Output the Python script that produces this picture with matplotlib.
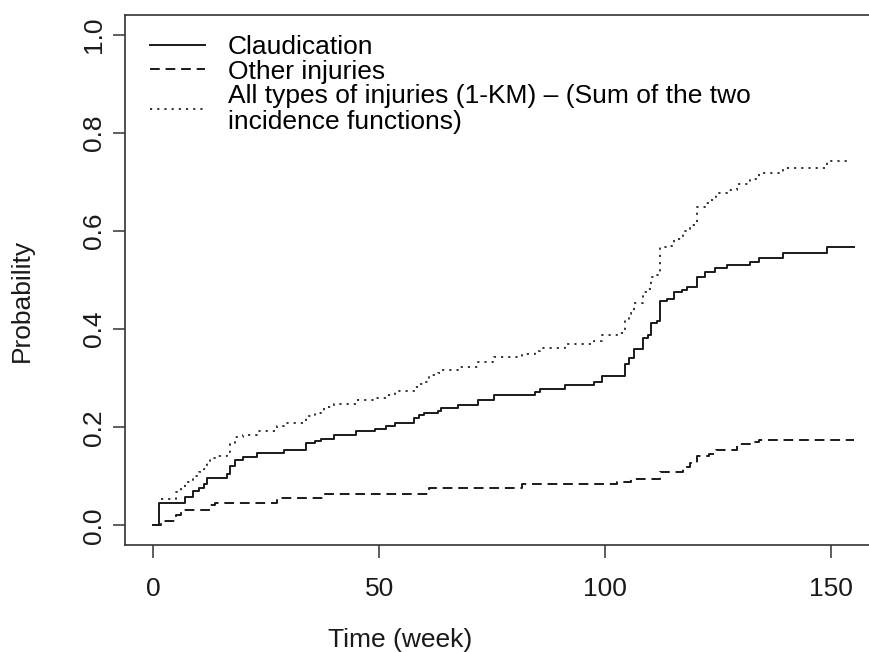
import numpy as np
import matplotlib as mpl
mpl.rcParams.update({'font.family': ['Liberation Sans', 'DejaVu Sans'], 'font.size': 19})
from matplotlib import pyplot as plt

# cumulative incidence, claudication (step times in weeks)
claud_t = [0, 1.25, 7.0, 8.8, 10.1, 11.2, 11.9, 16.4, 17.0, 18.2, 20.0, 23.1, 28.9, 33.8,
           35.9, 37.2, 40.0, 44.9, 49.0, 51.6, 53.6, 57.8, 58.8, 59.9, 63.0, 63.7, 67.4,
           71.8, 75.5, 84.4, 85.5, 91.1, 97.5, 99.3, 104.3, 105.2, 106.3, 108.4, 109.4,
           110.2, 111.5, 112.2, 113.6, 115.2, 117.0, 118.1, 120.2, 122.0, 124.2, 127.0,
           132.1, 134.0, 139.2, 149.1, 155.0]
claud_p = [0, 0.046, 0.057, 0.070, 0.077, 0.084, 0.096, 0.104, 0.120, 0.134, 0.139, 0.147,
           0.153, 0.167, 0.172, 0.177, 0.184, 0.192, 0.196, 0.202, 0.209, 0.218, 0.224,
           0.229, 0.234, 0.240, 0.246, 0.255, 0.266, 0.272, 0.277, 0.286, 0.292, 0.304,
           0.329, 0.341, 0.360, 0.382, 0.387, 0.412, 0.417, 0.458, 0.461, 0.475, 0.480,
           0.485, 0.507, 0.516, 0.524, 0.531, 0.536, 0.544, 0.555, 0.568, 0.568]

# cumulative incidence, other injuries
other_t = [0, 1.8, 5.1, 6.2, 12.7, 13.6, 27.4, 37.7, 61.0, 81.6, 102.5, 105.6, 112.2, 117.3,
           118.7, 120.2, 122.9, 124.4, 129.1, 132.1, 134.0, 155.0]
other_p = [0, 0.008, 0.022, 0.031, 0.041, 0.046, 0.056, 0.064, 0.077, 0.084, 0.089, 0.094,
           0.109, 0.119, 0.127, 0.141, 0.146, 0.153, 0.165, 0.170, 0.174, 0.174]

# 1-KM, all injuries
all_t = [1.8, 5.1, 6.2, 7.0, 8.8, 10.1, 11.2, 11.9, 12.7, 13.6, 16.4, 17.0, 18.2, 20.0, 23.1,
         27.4, 28.9, 33.8, 35.9, 37.2, 37.7, 40.0, 44.9, 49.0, 51.6, 53.6, 57.8, 58.8, 59.9,
         61.0, 63.0, 63.7, 67.4, 71.8, 75.5, 81.6, 84.4, 85.5, 91.1, 97.5, 99.3, 102.5,
         104.3, 105.2, 105.6, 106.3, 108.4, 109.4, 110.2, 111.5, 112.2, 113.6, 115.2, 117.0,
         117.3, 118.1, 118.7, 120.2, 122.0, 122.9, 124.2, 124.4, 127.0, 129.1, 132.1, 134.0,
         139.2, 149.1, 153.5]
all_p = [0.054, 0.068, 0.077, 0.088, 0.101, 0.108, 0.115, 0.127, 0.137, 0.142, 0.150, 0.166,
         0.180, 0.185, 0.193, 0.203, 0.209, 0.223, 0.228, 0.233, 0.241, 0.248, 0.256, 0.260,
         0.266, 0.273, 0.282, 0.288, 0.293, 0.306, 0.311, 0.317, 0.323, 0.332, 0.343, 0.350,
         0.356, 0.361, 0.370, 0.376, 0.388, 0.393, 0.418, 0.430, 0.435, 0.454, 0.476, 0.481,
         0.506, 0.511, 0.567, 0.570, 0.584, 0.589, 0.599, 0.604, 0.612, 0.648, 0.657, 0.662,
         0.670, 0.677, 0.684, 0.696, 0.706, 0.718, 0.729, 0.742, 0.742]

labels = ['Claudication', 'Other injuries',
          'All types of injuries (1-KM) \u2013 (Sum of the two\nincidence functions)']

W, H = 870, 652
fig = plt.figure(figsize=(W/100, H/100), dpi=100)
# plot box runs past the right edge, as in the reference
ax = fig.add_axes([125/W, (H-545)/H, 757/W, 530/H])

lw = 1.4
ax.step(claud_t, claud_p, where='post', color='#1a1a1a', lw=lw, label=labels[0])
ax.step(other_t, other_p, where='post', color='#1a1a1a', lw=lw, dashes=(5.0, 3.0), label=labels[1])
ax.step(all_t, all_p, where='post', color='#333333', lw=lw, dashes=(1.1, 2.6), label=labels[2])

ax.set_xlim(-6.2, 161.2)
ax.set_ylim(-0.04, 1.04)
ax.set_xticks([0, 50, 100, 150])
ax.set_yticks([0.0, 0.2, 0.4, 0.6, 0.8, 1.0])
ax.set_yticklabels(['0.0', '0.2', '0.4', '0.6', '0.8', '1.0'], rotation=90, va='center')

for s in ax.spines.values():
    s.set_color('#333333')
    s.set_linewidth(1.2)
ax.tick_params(direction='out', length=9, width=1.1, color='#333333', labelcolor='#1a1a1a')
ax.tick_params(axis='x', pad=14)
ax.tick_params(axis='y', pad=5)

ax.set_xlabel('Time (week)', color='#1a1a1a')
ax.set_ylabel('Probability', color='#1a1a1a')
ax.xaxis.set_label_coords((400-125)/757, (545-640)/530)
ax.yaxis.set_label_coords((22-125)/757, (545-300)/530)
ax.xaxis.label.set_va('center')
ax.yaxis.label.set_va('center')

leg = ax.legend(loc='upper left', bbox_to_anchor=((150-125)/757, (545-35)/530),
                frameon=False, borderpad=0, borderaxespad=0, handlelength=2.1,
                handletextpad=0.85, labelspacing=0.02, fontsize=19)
for t in leg.get_texts():
    t.set_linespacing(1.1)

fig.savefig('out.png', dpi=100)
